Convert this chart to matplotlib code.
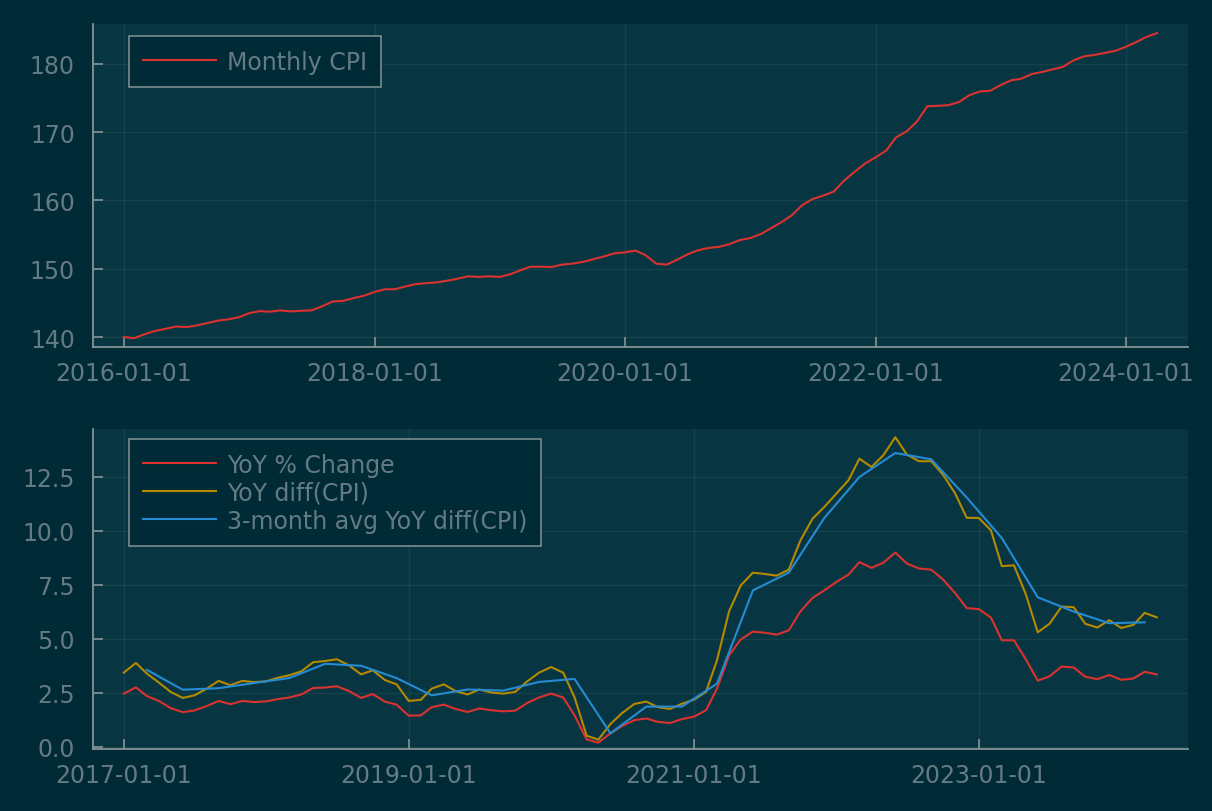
import numpy as np
import pandas as pd
import matplotlib
matplotlib.use('Agg')
import matplotlib.pyplot as plt
import matplotlib.dates as mdates

# monthly CPI, 2016-01 .. 2024-04
cpi = [140.0, 139.85, 140.4, 140.9, 141.2, 141.55, 141.45, 141.7, 142.05, 142.4, 142.6, 142.9,
       143.5, 143.8, 143.7, 143.9, 143.75, 143.85, 143.9, 144.5, 145.2, 145.3, 145.7, 146.05,
       146.6, 147.0, 147.0, 147.4, 147.75, 147.9, 148.0, 148.25, 148.55, 148.9, 148.8, 148.9,
       148.8, 149.2, 149.75, 150.3, 150.3, 150.25, 150.6, 150.75, 151.0, 151.4, 151.8, 152.25,
       152.4, 152.65, 152.0, 150.75, 150.6, 151.3, 152.1, 152.7, 153.05, 153.2, 153.6, 154.2,
       154.5, 155.1, 155.9, 156.8, 157.8, 159.3, 160.2, 160.7, 161.3, 162.9, 164.2, 165.4,
       166.3, 167.3, 169.2, 170.1, 171.5, 173.8, 173.85, 173.95, 174.4, 175.4, 175.95, 176.05,
       176.9, 177.6, 177.8, 178.5, 178.8, 179.2, 179.55, 180.5, 181.1, 181.3, 181.6, 181.9,
       182.5, 183.2, 183.95, 184.5]
cpi_dates = pd.date_range('2016-01-01', periods=len(cpi), freq='MS')

# YoY series, 2017-01 .. 2024-04
yoy_pct = [2.47, 2.76, 2.36, 2.13, 1.80, 1.61, 1.69, 1.89, 2.13, 1.98, 2.13, 2.08,
           2.11, 2.22, 2.29, 2.43, 2.73, 2.75, 2.81, 2.59, 2.27, 2.45, 2.10, 1.96,
           1.45, 1.46, 1.84, 1.96, 1.76, 1.62, 1.78, 1.70, 1.65, 1.68, 2.04, 2.29,
           2.47, 2.29, 1.47, 0.35, 0.20, 0.63, 0.97, 1.24, 1.32, 1.16, 1.11, 1.29,
           1.40, 1.70, 2.70, 4.24, 4.98, 5.34, 5.29, 5.20, 5.40, 6.28, 6.90, 7.25,
           7.64, 7.98, 8.56, 8.29, 8.53, 9.00, 8.49, 8.26, 8.21, 7.76, 7.13, 6.43,
           6.38, 5.99, 4.94, 4.94, 4.07, 3.07, 3.27, 3.72, 3.68, 3.25, 3.14, 3.33,
           3.11, 3.17, 3.48, 3.36]
yoy_diff = [3.44, 3.89, 3.40, 2.98, 2.55, 2.27, 2.39, 2.69, 3.06, 2.86, 3.06, 3.00,
            3.04, 3.21, 3.32, 3.50, 3.92, 3.98, 4.06, 3.78, 3.36, 3.55, 3.10, 2.90,
            2.13, 2.18, 2.70, 2.90, 2.59, 2.43, 2.66, 2.52, 2.47, 2.55, 3.04, 3.44,
            3.70, 3.44, 2.30, 0.52, 0.34, 1.06, 1.57, 1.99, 2.10, 1.84, 1.76, 2.00,
            2.19, 2.55, 4.01, 6.28, 7.48, 8.07, 8.01, 7.93, 8.21, 9.57, 10.57, 11.11,
            11.73, 12.35, 13.35, 12.96, 13.50, 14.34, 13.53, 13.23, 13.23, 12.61, 11.75, 10.61,
            10.60, 10.03, 8.37, 8.41, 7.09, 5.31, 5.70, 6.50, 6.47, 5.70, 5.53, 5.87,
            5.51, 5.65, 6.21, 6.00]
yoy_dates = pd.date_range('2017-01-01', periods=len(yoy_pct), freq='MS')

# 3-month avg, one point per quarter (Mar, Jun, Sep, Dec)
avg3 = [3.57, 2.65, 2.72, 2.96, 3.19, 3.85, 3.76, 3.19, 2.39, 2.66, 2.61, 3.01,
        3.15, 0.63, 1.87, 1.87, 2.93, 7.25, 8.07, 10.6, 12.5, 13.61, 13.32, 11.55,
        9.67, 6.93, 6.27, 5.73, 5.77]
avg3_dates = pd.date_range('2017-03-01', periods=len(avg3), freq='3MS')

top_ticks = ['2016-01-01', '2018-01-01', '2020-01-01', '2022-01-01', '2024-01-01']
bot_ticks = ['2017-01-01', '2019-01-01', '2021-01-01', '2023-01-01']

BG = '#002b36'
BG_IN = '#073642'
FG = '#657b83'
AX = '#839496'
RED = '#dc322f'
YEL = '#b58900'
BLU = '#268bd2'
FS = 17

plt.rcParams['font.family'] = ['DejaVu Sans']

fig = plt.figure(figsize=(12.12, 8.12), dpi=100, facecolor=BG)
ax1 = fig.add_axes([0.0767, 0.5714, 0.9035, 0.3978])
ax2 = fig.add_axes([0.0767, 0.0764, 0.9035, 0.394])


def style(ax):
    ax.set_facecolor(BG_IN)
    for s in ['top', 'right']:
        ax.spines[s].set_visible(False)
    for s in ['left', 'bottom']:
        ax.spines[s].set_color(AX)
        ax.spines[s].set_linewidth(1.3)
    ax.grid(True, color=AX, alpha=0.12, lw=1)
    ax.tick_params(axis='both', direction='in', length=7, width=1.2, color=AX,
                   labelcolor=FG, labelsize=FS)
    ax.tick_params(axis='x', pad=10)
    ax.tick_params(axis='y', pad=13)
    ax.xaxis.set_major_formatter(mdates.DateFormatter('%Y-%m-%d'))


def leg(ax, anchor, spacing):
    lg = ax.legend(loc='upper left', bbox_to_anchor=anchor, borderaxespad=0,
                   fontsize=FS, frameon=True, fancybox=False, facecolor=BG,
                   edgecolor=AX, framealpha=1, handlelength=3.1, handletextpad=0.47,
                   borderpad=0.58, labelspacing=spacing)
    lg.get_frame().set_linewidth(1.1)
    for t in lg.get_texts():
        t.set_color(FG)


style(ax1)
ax1.plot(cpi_dates, cpi, color=RED, lw=1.5, label='Monthly CPI')
ax1.set_xticks(pd.to_datetime(top_ticks))
ax1.set_yticks([140, 150, 160, 170, 180])
start = pd.Timestamp('2016-01-01')
ax1.set_xlim(start - pd.Timedelta(days=90), start + pd.Timedelta(days=3103))
ax1.set_ylim(138.54, 185.83)
leg(ax1, (0.0329, 0.9628), 0.5)

style(ax2)
ax2.plot(yoy_dates, yoy_pct, color=RED, lw=1.5, label='YoY % Change')
ax2.plot(yoy_dates, yoy_diff, color=YEL, lw=1.5, label='YoY diff(CPI)')
ax2.plot(avg3_dates, avg3, color=BLU, lw=1.5, label='3-month avg YoY diff(CPI)')
ax2.set_xticks(pd.to_datetime(bot_ticks))
ax2.set_yticks([0, 2.5, 5, 7.5, 10, 12.5])
ax2.yaxis.set_major_formatter(matplotlib.ticker.FormatStrFormatter('%.1f'))
start2 = pd.Timestamp('2017-01-01')
ax2.set_xlim(start2 - pd.Timedelta(days=79), start2 + pd.Timedelta(days=2727))
ax2.set_ylim(-0.093, 14.72)
leg(ax2, (0.0329, 0.969), 0.17)

fig.savefig('out.png', dpi=100, facecolor=BG)
